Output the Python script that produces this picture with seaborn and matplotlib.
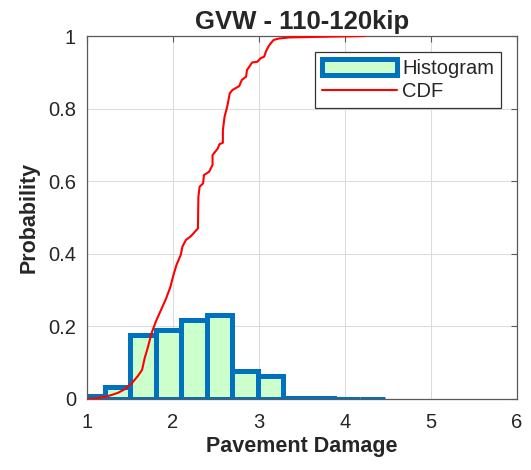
import numpy as np
import pandas as pd
import matplotlib
matplotlib.use("Agg")
import matplotlib.pyplot as plt
import seaborn as sns

# ---- data ----
bin_edges = [0.91, 1.207, 1.503, 1.80, 2.096, 2.393, 2.69, 2.986, 3.283, 3.58, 3.876, 4.173, 4.47]
hist_heights = [0.008, 0.032, 0.177, 0.191, 0.217, 0.231, 0.076, 0.062, 0.004, 0.002, 0.001, 0.001]

cdf_x = [1.0, 1.09, 1.21, 1.285, 1.36, 1.44, 1.52, 1.59, 1.64, 1.67, 1.71, 1.75, 1.80, 1.86, 1.92,
         1.97, 2.0, 2.04, 2.09, 2.11, 2.15, 2.21, 2.29, 2.295, 2.31, 2.35, 2.36, 2.42, 2.46, 2.46,
         2.52, 2.54, 2.58, 2.58, 2.60, 2.63, 2.66, 2.69, 2.77, 2.80, 2.85, 2.86, 2.90, 2.92, 2.98,
         3.02, 3.06, 3.08, 3.11, 3.13, 3.17, 3.23, 3.35, 3.77, 4.23]
cdf_y = [0.0, 0.002, 0.006, 0.011, 0.017, 0.027, 0.043, 0.063, 0.08, 0.112, 0.144, 0.181, 0.213,
         0.245, 0.277, 0.309, 0.337, 0.369, 0.397, 0.42, 0.438, 0.449, 0.47, 0.557, 0.585, 0.594,
         0.617, 0.626, 0.645, 0.672, 0.69, 0.702, 0.706, 0.741, 0.778, 0.805, 0.842, 0.851, 0.862,
         0.879, 0.888, 0.906, 0.92, 0.927, 0.929, 0.939, 0.943, 0.957, 0.971, 0.978, 0.989, 0.993,
         0.996, 0.998, 1.0]

x_ticks = [1, 2, 3, 4, 5, 6]
y_ticks = [0, 0.2, 0.4, 0.6, 0.8, 1]

title = "GVW - 110-120kip"
x_label = "Pavement Damage"
y_label = "Probability"

# ---- style ----
sns.set_style("white")
plt.rcParams["font.family"] = ["Liberation Sans", "DejaVu Sans"]

fig = plt.figure(figsize=(5.31, 4.70), dpi=100)
ax = fig.add_axes([87 / 531, 1 - 399 / 470, 430 / 531, 363 / 470])

centers = [(bin_edges[i] + bin_edges[i + 1]) / 2 for i in range(len(hist_heights))]
hist_df = pd.DataFrame({"x": centers, "w": hist_heights})
sns.histplot(data=hist_df, x="x", weights="w", bins=bin_edges, stat="count",
             color="#ccffcc", edgecolor="#0072BD", linewidth=3.6, alpha=1,
             label="Histogram", ax=ax, zorder=2)

cdf_df = pd.DataFrame({"x": cdf_x, "y": cdf_y})
sns.lineplot(data=cdf_df, x="x", y="y", sort=False, estimator=None,
             color="#ff0000", linewidth=1.5, label="CDF", ax=ax, zorder=3)

ax.set_xlim(1, 6)
ax.set_ylim(0, 1)
ax.set_xticks(x_ticks)
ax.set_yticks(y_ticks)
ax.set_xticklabels([str(t) for t in x_ticks])
ax.set_yticklabels(["%g" % t for t in y_ticks])

ax.grid(True, color="#dcdcdc", linewidth=0.8)
ax.set_axisbelow(True)
for s in ax.spines.values():
    s.set_visible(True)
    s.set_color("#5a5a5a")
    s.set_linewidth(0.9)
ax.tick_params(direction="in", length=4, width=0.8, color="#5a5a5a",
               top=True, right=True, labelsize=14.5, labelcolor="#262626")
ax.tick_params(axis="x", pad=10)
ax.tick_params(axis="y", pad=8)

ax.set_title(title, fontsize=18.5, fontweight="bold", pad=5)
ax.set_xlabel(x_label, fontsize=15.5, fontweight="bold", labelpad=3)
ax.set_ylabel(y_label, fontsize=15.5, fontweight="bold", labelpad=6)

handles, labels = ax.get_legend_handles_labels()
order = [labels.index("Histogram"), labels.index("CDF")]
leg = ax.legend([handles[i] for i in order], [labels[i] for i in order],
                loc="upper right", bbox_to_anchor=(0.963, 0.956), fontsize=14.5,
                frameon=True, fancybox=False, edgecolor="#333333", framealpha=1,
                handlelength=3.7, handleheight=0.8, handletextpad=0.25,
                borderpad=0.35, labelspacing=0.2, borderaxespad=0)
leg.get_frame().set_linewidth(0.9)

fig.savefig("out.png", dpi=100)
